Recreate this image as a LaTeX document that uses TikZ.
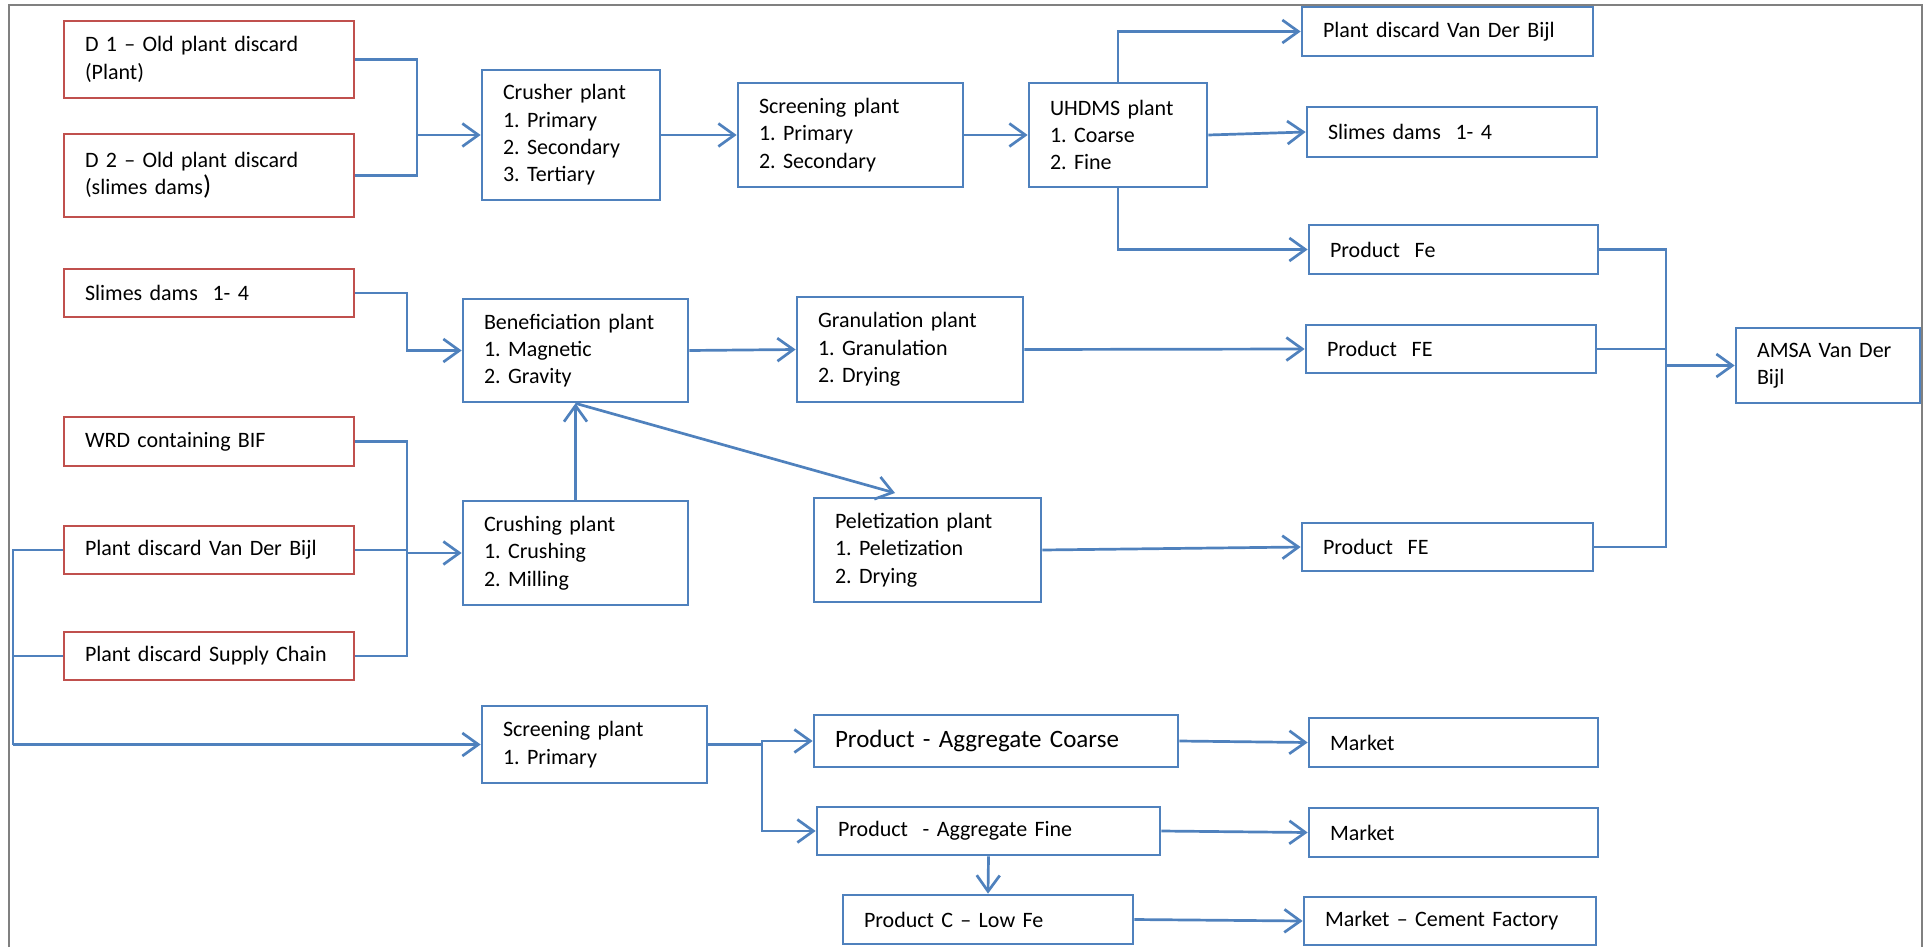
\documentclass[tikz,border=0pt]{standalone}
\usepackage{fontspec}
\setmainfont{Carlito}
\usetikzlibrary{arrows.meta}
\definecolor{boxblue}{RGB}{79,129,189}
\definecolor{boxred}{RGB}{192,80,77}
\definecolor{framegray}{RGB}{128,128,128}
\frenchspacing

\begin{document}
\begin{tikzpicture}[x=1pt,y=1pt,yscale=-1,
	every node/.style={font=\fontsize{22}{27.3}\selectfont},
	cell/.style 2 args={draw, line width=2.7pt, inner xsep=21pt, inner ysep=2pt, align=left, minimum width=#1, text width=#1-42pt, minimum height=#2},
	source/.style={cell={290pt}{#1}, draw=boxred},
	plant/.style 2 args={cell={#1}{#2}, draw=boxblue},
	flow/.style={draw=boxblue, line width=2.7pt, -{Straight Barb[length=16pt,width=23pt]}},
	link/.style={draw=boxblue, line width=2.7pt},
]
\useasboundingbox (0,0) rectangle (1926,947);
\draw [framegray, line width=2.5pt] (9,947) -- (9,5) -- (1922,5) -- (1922,947);

% inputs (red)
\node [source=77pt] (d1) at (209,59.5) {D 1 – Old plant discard\\(Plant)};
\node [source=83pt] (d2) at (209,175.5) {D 2 – Old plant discard\\(slimes dams{\fontsize{27}{27}\selectfont)}};
\node [source=48pt] (slimesL) at (209,293) {Slimes dams~~1- 4};
\node [source=49pt] (wrd) at (209,441.5) {WRD containing BIF};
\node [source=48pt] (vdbL) at (209,550) {Plant discard Van Der Bijl};
\node [source=48pt] (supply) at (209,656) {Plant discard Supply Chain};

% plants (blue)
\node [plant={178pt}{130pt}] (crusher) at (571,135) {Crusher plant\\1. Primary\\2. Secondary\\3. Tertiary};
\node [plant={225pt}{104pt}] (screen1) at (850.5,135) {Screening plant\\1. Primary\\2. Secondary};
\node [plant={178pt}{104pt}] (uhdms) at (1118,135) {UHDMS plant\\1. Coarse\\2. Fine};
\node [plant={291pt}{49pt}] (vdbR) at (1447.5,31.5) {Plant discard Van Der Bijl};
\node [plant={290pt}{50pt}] (slimesR) at (1452,132) {Slimes dams~~1- 4};
\node [plant={289pt}{49pt}] (prodFe) at (1453.5,249.5) {Product~~Fe};
\node [plant={225pt}{103pt}] (benef) at (575.5,350.5) {Beneficiation plant\\1. Magnetic\\2. Gravity};
\node [plant={226pt}{105pt}] (granul) at (910,349.5) {Granulation plant\\1. Granulation\\2. Drying};
\node [plant={290pt}{48pt}] (prodFE1) at (1451,349) {Product~~FE};
\node [plant={225pt}{104pt}] (crushing) at (575.5,553) {Crushing plant\\1. Crushing\\2. Milling};
\node [plant={227pt}{104pt}] (pelet) at (927.5,550) {Peletization plant\\1. Peletization\\2. Drying};
\node [plant={291pt}{48pt}] (prodFE2) at (1447.5,547) {Product~~FE};
\node [plant={184pt}{75pt}] (amsa) at (1828,365.5) {AMSA Van Der\\Bijl};
\node [plant={225pt}{77pt}] (screen2) at (594.5,744.5) {Screening plant\\1. Primary};
\node [plant={364pt}{52pt}, font=\fontsize{25}{30}\selectfont] (coarse) at (996,741) {Product - Aggregate Coarse};
\node [plant={343pt}{48pt}] (fine) at (988.5,831) {Product~~- Aggregate Fine};
\node [plant={290pt}{49pt}] (lowfe) at (988,919.5) {Product C – Low Fe};
\node [plant={289pt}{49pt}] (market1) at (1453.5,742.5) {Market};
\node [plant={289pt}{49pt}] (market2) at (1453.5,832.5) {Market};
\node [plant={292pt}{48pt}] (market3) at (1450,921) {Market – Cement Factory};

% junctions
\coordinate (j1) at (417,135);
\coordinate (j2) at (407,350.5);
\coordinate (j3) at (407,553);
\coordinate (j4) at (13,744.5);
\coordinate (j5) at (1666,365.5);
\coordinate (j6) at (762,744.5);
\coordinate (pt) at (895,493);

% connectors
\draw [link] (d1.east) -| (j1);
\draw [link] (d2.east) -| (j1);
\draw [flow] (j1) -- (crusher.west);
\draw [flow] (crusher.east) -- (screen1.west);
\draw [flow] (screen1.east) -- (uhdms.west);
\draw [flow] (uhdms.north) |- (vdbR.west);
\draw [flow] (uhdms.east) -- (slimesR.west);
\draw [flow] (uhdms.south) |- (prodFe.west);
\draw [flow] (slimesL.east) -| (j2) -- (benef.west);
\draw [flow] (benef.east) -- (granul.west);
\draw [flow] (granul.east) -- (prodFE1.west);
\draw [flow] (crushing.north) -- (benef.south);
\draw [flow] (benef.south) -- (pt);
\draw [flow] (pelet.east) -- (prodFE2.west);
\draw [link] (wrd.east) -| (j3);
\draw [link] (supply.east) -| (j3);
\draw [link] (vdbL.east) -- (vdbL.east -| j3);
\draw [flow] (j3) -- (crushing.west);
\draw [link] (prodFe.east) -| (j5);
\draw [link] (prodFE2.east) -| (j5);
\draw [link] (prodFE1.east) -- (prodFE1.east -| j5);
\draw [flow] (j5) -- (amsa.west);
\draw [link] (vdbL.west) -| (j4);
\draw [link] (supply.west) -- (supply.west -| j4);
\draw [flow] (j4) -- (screen2.west);
\draw [link] (screen2.east) -- (j6);
\draw [flow] (j6) |- (coarse.west);
\draw [flow] (j6) |- (fine.west);
\draw [flow] (fine.south) -- (lowfe.north);
\draw [flow] (coarse.east) -- (market1.west);
\draw [flow] (fine.east) -- (market2.west);
\draw [flow] (lowfe.east) -- (market3.west);
\end{tikzpicture}
\end{document}
